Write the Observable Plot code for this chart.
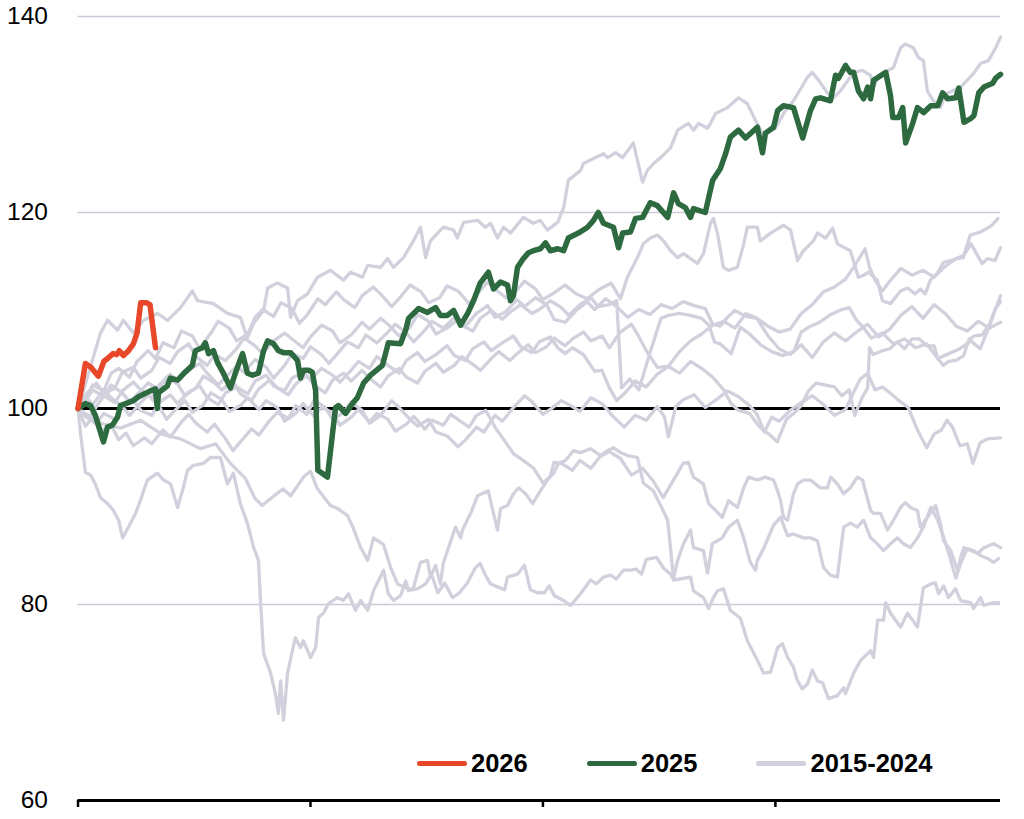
<!DOCTYPE html>
<html>
<head>
<meta charset="utf-8">
<script src="https://cdn.jsdelivr.net/npm/d3@7"></script>
<script src="https://cdn.jsdelivr.net/npm/@observablehq/plot@0.6"></script>
<style>
  body { margin: 0; background: #fff; font-family: "Liberation Sans", Arial, sans-serif; }
  #chart { position: relative; width: 1024px; height: 819px; }
  .legend { position: absolute; left: 417px; top: 748px; height: 30px; display: flex; align-items: center; }
  .legend .item { display: flex; align-items: center; margin-right: 59px; }
  .legend .swatch { width: 50px; height: 5px; border-radius: 3px; margin-right: 4px; }
  .legend .label { font-weight: bold; font-size: 25.5px; color: #000; line-height: 30px; }
</style>
</head>
<body>
<div id="chart"></div>
<script>
// Index level (start of year = 100) by trading day of the year.
const yTicks = [60, 80, 100, 120, 140];
const yGrid = [80, 120, 140];
const xTicks = [0, 63, 126, 189];

const legendItems = ["2026", "2025", "2015-2024"];
const colors = { "2026": "#e8472a", "2025": "#2d6a3f", "2015-2024": "#d1d1dd" };

// [trading day, index]
const y2026 = [[0,100],[2,104.6],[3.5,104.2],[5.5,103.3],[7,104.8],[8,105.1],[9.5,105.6],[10.5,105.5],[11.2,105.9],[12.3,105.4],[13.7,105.9],[15,106.6],[16,107.7],[17,110.8],[18.5,110.8],[19.5,110.6],[21,106.2]];

const y2025 = [[0,100],[2,100.5],[3.4,100.3],[4.7,99.3],[6.9,96.6],[8,98.1],[9.3,98.3],[10.7,99.1],[11.5,100.3],[15,100.8],[16.4,101.2],[19.6,101.8],[21,102],[21.5,100],[21.8,101.6],[24.2,102.3],[25,103.1],[27,102.9],[29,103.7],[31,104.4],[31.8,105.9],[33.7,106.2],[34.5,106.7],[35.4,105.6],[36.7,105.9],[37.8,104.7],[39.4,103.6],[41.3,102.1],[43.2,104.2],[44.6,105.6],[45.9,103.6],[47.3,103.4],[48.9,103.6],[50.3,105.9],[51.4,106.9],[53,106.6],[54.3,105.9],[55.7,105.7],[57.6,105.7],[59.5,104.9],[60.3,103.1],[61.1,103.9],[62.5,103.9],[63.5,103.7],[64.4,101.8],[65,93.7],[67.6,93],[69.8,100.1],[70.6,100.3],[72.5,99.5],[74.4,100.5],[75.7,101.1],[77.4,102.6],[79.3,103.4],[82.5,104.4],[84.1,106.7],[87.4,106.6],[88.8,108],[89.6,109.2],[92.3,110.2],[94.7,109.8],[96.9,110.3],[98.2,109.5],[100.1,109.5],[101.8,110],[103.7,108.5],[105.6,109.7],[107.2,111],[109,112.8],[111.2,113.9],[112.6,112.2],[114.5,112.9],[116.4,112.6],[117.2,111],[118,111.5],[119.1,114.4],[120.7,115.3],[122.1,115.9],[123.4,116.1],[125.3,116.3],[126.7,116.9],[128,116.1],[130,116.3],[131.6,116.1],[132.9,117.4],[135.6,117.9],[138.1,118.5],[139.7,119.2],[141,120],[142.4,118.9],[145.1,118.5],[146.5,116.4],[147.6,117.9],[149.7,118],[151.1,119.4],[153,119.5],[155.1,121],[157,120.7],[159.8,119.5],[161.4,122],[162.7,120.9],[164.6,120.5],[166,119.5],[166.8,120.4],[170,120],[172,123.3],[174.1,124.5],[175.5,126],[176.8,127.7],[179,128.4],[180.9,127.6],[184.1,128.7],[185.5,126.1],[186.3,128.1],[188.5,128.7],[189.6,130.4],[191.2,130.9],[193.9,130.7],[196.4,127.6],[198.5,130.4],[199.9,131.6],[201.2,131.7],[203.9,131.4],[205.3,134],[206.1,133.7],[208,135],[209.3,134.3],[210.2,134.3],[211.5,132.4],[212.9,131.6],[214,132.8],[214.8,131.6],[215.6,133.5],[218.9,134.3],[220.2,131.9],[220.8,129.7],[222.4,129.7],[223.5,130.7],[224.3,127.1],[226.2,129.1],[227.5,130.7],[229.2,130.2],[231.1,130.9],[233,130.9],[234.3,132.2],[235.7,131.6],[237.9,131.7],[238.7,132.7],[240.1,129.2],[242,129.6],[242.8,129.9],[244.1,132.2],[245.5,132.8],[247.9,133.2],[248.7,133.7],[250,134.1]];

// Ten earlier years
const pastYears = [2015, 2016, 2017, 2018, 2019, 2020, 2021, 2022, 2023, 2024];

const pastA = [[0,100],[6.1,107.7],[8,109],[10.7,108],[12.3,109],[15,107.7],[17.8,109],[21.5,109.7],[24.3,109],[27.8,110.3],[31,112],[32.4,111],[36.7,110.7],[40.5,109.7],[44,109.3],[45.9,107.2],[47.6,108.7],[50.3,110],[51.4,112.3],[54,112.8],[56.8,112.3],[57.6,109.3],[59.5,111],[62.2,111.7],[64.9,113.4],[68.4,114.1],[72,113.1],[73.8,113.9],[77.1,113.4],[78.5,114.6],[82,114.4],[83.9,115.3],[85.5,114.4],[88.2,115.4],[90.9,117.1],[92.8,118.5],[94.2,115.4],[95.5,117.1],[99,118.5],[101.8,118.2],[102.8,117.4],[104.5,119],[108.3,119.2],[110.4,118.5],[111.8,118.9],[113.7,117.4],[115.3,118.5],[117.2,117.9],[120.7,119.5],[123.4,118.9],[125.3,119.2],[127.2,118.2],[130,119],[131.6,120.5],[132.9,123.3],[136.2,124.3],[137,125],[139.7,125.5],[142.4,126],[143.5,125.6],[145.7,126.1],[147.6,125.6],[150.5,127.1],[153,123.1],[154.3,124.3],[156,125],[157.9,125.6],[160.6,126.6],[162.5,128.4],[165.4,129.1],[166.8,128.4],[168.2,129.1],[170.6,128.6],[171.4,129.1],[172.8,130.1],[176,130.7],[179,131.7],[181.4,131.1],[183.6,129.4],[185.8,127.9],[189,128.6],[191.7,130.4],[193.9,131.4],[197.7,133.8],[199,134.3],[200.7,133.5],[203.1,132.2],[204.7,131.7],[206.6,132.4],[210.2,134.3],[212.6,134.5],[214.8,134],[215.6,132.8],[216.9,133.8],[219.6,134.5],[221,134.8],[222.9,136.8],[224.2,137.2],[226.4,136.8],[227.8,135.8],[229.1,135.5],[230.2,132.4],[231.8,131.4],[233.7,130.7],[235.1,132.1],[237,132.4],[239.2,132.8],[241,133.5],[242.7,134.2],[244.6,135.2],[246.7,135.5],[248.7,136.8],[250,137.9]];

const pastB = [[0,100],[2,100.9],[4,102.4],[7,101.8],[9,103.6],[11,104.1],[14,103.2],[16,104.8],[19,105.9],[21,105.1],[23,106.7],[26,106.2],[28,107.9],[31,107.4],[33,106.1],[36,107.7],[38,108.9],[41,108.2],[43,106.9],[46,107.6],[48,109.3],[50,110.1],[53,109.4],[55,110.8],[58,110.2],[60,108.7],[62,109.5],[65,111.2],[67,110.6],[70,111.9],[72,111.1],[75,110.3],[77,111.5],[80,112.4],[82,111.7],[85,110.4],[87,111.2],[90,112.6],[93,111.9],[95,110.8],[98,111.3],[100,112.5],[103,112],[106,110.7],[108,111.6],[111,112.9],[113,112.2],[116,111.3],[119,112.1],[121,113],[124,112.2],[126,111.1],[129,111.8],[132,112.6],[135,111.7],[138,111.2],[141,112.1],[144.5,112.8],[147,111.2],[148.9,113.4],[151.6,115.4],[153.2,116.8],[155.1,117.4],[157,117.7],[158.7,117.1],[160.6,116.1],[162.5,115.4],[164.1,115.8],[166,115.3],[167.9,114.8],[169.5,115.8],[171.4,118.9],[172.2,119.4],[173.3,117.9],[174.9,114.4],[176.3,114.1],[178.7,114.4],[180.4,116.8],[181.4,118.5],[184.1,118.5],[184.9,117.1],[187.7,117.9],[191.2,118.7],[193.1,118.2],[195,115.1],[196.6,116.1],[199.3,117.1],[200.4,117.9],[202.6,117.4],[204.5,118.4],[205.8,116.8],[209.3,116.1],[211.5,113.4],[212.9,113.6],[214.2,113.9],[216.6,113.1],[218,111],[220.2,110.7],[222.9,112],[224.8,112.3],[226.9,111.7],[228.3,112.2],[229.6,111.7],[231,113.1],[232.9,113.8],[234.5,114.9],[238.3,115.3],[239.9,115.4],[241.8,117.7],[244.5,118],[246.4,118.4],[247.7,118.7],[249.3,119.4]];

const pastC = [[0,100],[2,101.4],[5,102.6],[7,101.5],[10,102.1],[12,103.7],[15,104.2],[17,103.1],[20,103.9],[22,105.2],[25,104.6],[27,105.8],[30,106.6],[32,105.3],[35,104.4],[37,105.5],[40,104.9],[43,106.1],[45,107.2],[48,106.4],[50,105.6],[53,106.9],[56,107.7],[58,107.1],[61,106.2],[63,107.3],[66,108.5],[69,107.9],[71,106.7],[74,107.5],[77,108.8],[79,108.1],[82,109.2],[84,108.6],[87,107.4],[90,108.3],[92,109.6],[95,108.9],[97,107.6],[100,108.2],[103,109.1],[105,108.4],[108,109.7],[111,110.5],[113,109.3],[116,109.9],[119,111.1],[121,110.4],[124,111.3],[127,110.6],[129,109.1],[132,108.8],[135,110],[138,110.9],[140,110.1],[143,111.2],[146,110.4],[149,109.3],[152,110.1],[155,109.6],[158,110.6],[161,110.2],[164,110.9],[167,110.5],[170,110.2],[172,108.6],[174,108.4],[176,109.3],[178,110],[181,109.4],[184,109.2],[187,108.4],[190,107.8],[193,108.1],[196,109.7],[199,110.6],[202,111.9],[205,112.4],[208,113.2],[210,114.3],[212,115.5],[213.3,116.3],[214.5,114.4],[216,113.1],[218,112],[220,113],[223,114.3],[226,113.6],[229,114.1],[232,113.4],[235,114.5],[238,115.3],[240,115.6],[242,116.8],[243.5,115.8],[245,114.8],[246.5,115.3],[248.5,115.1],[250,116.4]];

const pastD = [[0,100],[3,99.1],[5,100.2],[7,101.3],[10,100.6],[12,101.8],[15,102.7],[17,101.9],[20,101.1],[22,102.4],[25,103.5],[27,102.8],[30,103.9],[33,104.6],[35,103.6],[38,102.4],[40,103.2],[43,104.3],[45,103.7],[48,105],[51,104.2],[53,103.1],[56,104.4],[58,105.6],[61,105.1],[63,106.3],[66,105.5],[68,104.6],[71,105.9],[73,106.8],[76,106.2],[78,107.5],[81,106.7],[84,107.8],[86,108.6],[89,107.7],[91,106.8],[94,108],[96,108.9],[99,108.2],[102,109.3],[104,108.5],[107,107.9],[109,109.2],[112,110],[115,109.1],[117,109.8],[120,110.6],[123,109.7],[125,110.1],[128,111],[131,110.3],[133,109.5],[136,110.6],[139,111.3],[141,110.4],[144,110.6],[146,111],[147.3,102.1],[149.5,103],[152,101.9],[155,105.7],[158,109.2],[160,109.5],[163,109.7],[166,109.5],[169,109.2],[171,108.5],[172.5,106.8],[174,106.6],[177,105.6],[179.5,108.3],[182,107.6],[185,106.5],[188,105.8],[191,105.4],[194,105.8],[196,107.8],[198.5,108.4],[201,108.8],[204,109.6],[207,110.1],[209,110.3],[211,109],[213,108.2],[215,107.2],[218,107.7],[221,106.6],[224,107.1],[227,106.2],[230,106.6],[233,105.1],[236,105.6],[239,106.1],[242,106.9],[244.5,106.1],[247,108.4],[248.5,110],[250,111.5]];

const pastE = [[0,100],[2,99.2],[5,98.4],[7,99.5],[10,98.9],[12,100.3],[15,100.9],[17,99.8],[20,99.3],[22,100.6],[25,101.4],[27,100.5],[30,101.7],[33,102.3],[35,101.1],[38,100.4],[40,101.6],[43,102.2],[46,101.5],[48,102.8],[51,103.4],[53,102.3],[56,101.8],[58,103.1],[61,103.7],[63,102.9],[66,104.1],[69,103.4],[71,102.7],[74,103.9],[76,104.8],[79,104.1],[81,105.3],[84,104.4],[87,103.6],[89,104.9],[92,105.7],[94,104.8],[97,105.5],[100,106.4],[102,105.4],[105,104.9],[107,106.1],[110,106.8],[112,105.9],[115,106.7],[118,107.4],[120,106.3],[123,105.7],[125,106.8],[128,107.3],[130,106.2],[132,105.6],[134,106.2],[137,105.5],[140,103.8],[142,103.9],[144,102.1],[146,100.8],[148,101.5],[151,102.8],[154,102.2],[157,103.5],[160,104.3],[163,103.6],[166,104.8],[169,104.1],[172,103.2],[175,101.9],[177,100.5],[179,99.8],[182,99.5],[184.5,98.2],[187.5,97.3],[189.5,96.6],[192,98.9],[194,99.5],[196,100.3],[198,101.8],[200,102.6],[205,102.2],[207,101.3],[209,101.9],[210.5,99.3],[212.5,101.1],[214,102.1],[214.5,106.2],[215.5,105.5],[218,105.9],[220,106.1],[222,106.8],[224,106.1],[226,107.1],[228,107.1],[230,106.4],[232,106.4],[233,105.1],[234.5,104.4],[236,104.8],[238,104.9],[240,105.4],[241.5,107.1],[243,107.4],[245,107.5],[247,108.6],[248.5,110.1],[250,110.9]];

const pastF = [[0,100],[2,100.8],[4,101.9],[7,101.2],[9,102.4],[12,101.6],[14,100.7],[17,101.8],[19,102.6],[22,101.9],[24,103.2],[27,102.5],[29,101.3],[32,102.1],[34,103.3],[37,102.6],[39,101.9],[42,102.8],[44,101.5],[47,100.8],[49,102],[52,102.9],[54,102.1],[57,101.4],[59,102.5],[62,103.4],[64,102.4],[67,101.6],[69,102.9],[72,103.6],[74,102.8],[77,103.9],[79,103.1],[82,102.2],[84,103.3],[87,104.1],[89,103.2],[92,102.6],[94,103.8],[97,104.6],[99,103.7],[102,104.4],[104,105.3],[107,104.5],[109,103.9],[112,105.1],[114,105.8],[117,104.9],[119,105.6],[122,106.5],[124,105.7],[127,106.3],[129,107.2],[132,106.4],[134,107.1],[137,107.8],[139,106.9],[142,107.4],[144,106.2],[147,107.8],[150,108.6],[151.6,107.6],[154,105.9],[157,104.2],[160,104.3],[163,105.8],[166,106.9],[169,107.6],[172,108.5],[175,108.9],[178,108.2],[181,109.7],[184,109.2],[187,107.4],[190,106.1],[193,105.5],[196,106.5],[199,105.2],[202,106.8],[205,107.7],[208,106.9],[211,107.8],[214,108.6],[217,107.3],[220,108.1],[223,109.5],[226,110.4],[229,109.2],[232,110.6],[235,109.7],[238,108.4],[241,107.9],[244,108.9],[247,108.2],[250,108.8]];

const pastG = [[0,100],[2,98.2],[4,99.1],[6,97.6],[9,98.3],[11,96.8],[13,97.5],[15,96.2],[18,97],[20,96.4],[23,97.8],[25,97.1],[28,98.6],[30,99.4],[32,98.5],[35,97.6],[37,98.4],[40,96.9],[42,95.7],[44,96.6],[47,97.9],[49,97.3],[52,98.8],[54,99.6],[57,99],[59,100.3],[62,99.4],[64,100.9],[67,100.1],[69,98.9],[72,99.6],[74,100.7],[77,99.8],[79,98.5],[82,99.3],[85,100.8],[87,100.1],[90,98.9],[92,98.2],[95,98.9],[97,97.6],[100,97.2],[103,96.1],[105,96.8],[108,98.1],[110,97.6],[113,99.3],[115,98.7],[118,100.1],[121,101.3],[123,100.7],[126,99.4],[128,99.9],[131,100.8],[134,100.2],[136,99.7],[139,101.1],[142,100.5],[145,99.2],[148,98.1],[151,99.3],[154,98.8],[157,100.2],[159,99.1],[160,97.1],[162,100.2],[164,100.9],[167,101.4],[170,100.1],[173,100.9],[176,101.8],[179,101.2],[182,100.3],[184,99.4],[186,97.6],[188,99.1],[190,98.7],[193,99.8],[196,100.6],[199,101.3],[202,100.4],[205,99.3],[208,99.9],[210,101.5],[212,103],[214,103.6],[216,101.9],[218,102.2],[220,101.6],[222.5,100.8],[225,100.1],[227.5,97.8],[230,96],[232,97.4],[234,97.8],[235.5,98.8],[237,98.1],[239,96.2],[241,96.4],[242.5,94.4],[244.5,96.5],[246.5,96.9],[250,97]];

const pastH = [[0,100],[2,101.2],[4,100.4],[7,101.9],[9,101.1],[12,100.2],[14,99.3],[17,100.6],[19,101.4],[22,100.2],[24,98.9],[26,99.7],[29,100.8],[31,99.6],[34,100.4],[36,101.6],[39,100.9],[41,99.7],[44,100.3],[46,101.1],[49,99.9],[51,100.8],[54,100.1],[56,98.7],[59,99.5],[61,100.5],[64,99.2],[66,100.1],[69,99.6],[71,98.3],[74,99.1],[76,99.9],[79,98.6],[81,99.5],[84,98.9],[86,97.7],[89,98.4],[91,99.2],[94,97.9],[96,98.8],[99,98.3],[101,99.4],[104,98.6],[106,98.1],[108,99.3],[110.5,99.8],[113.5,97.8],[116,96.5],[118,95.4],[121,94.6],[123.5,93.9],[126,92.4],[128,93.1],[129,94.5],[131,94.4],[134,93.7],[136,94.7],[139,93.9],[141.5,95.1],[144,95.6],[147,94.9],[150,93.2],[153,93.9],[155.9,92.6],[158.6,90.9],[164,94.4],[165.4,94.5],[166.8,93],[169.5,92.3],[170.9,90.3],[172.8,89.6],[174.6,88.9],[176.3,90.6],[178.7,89.9],[180.4,91.9],[181.7,93],[184.1,92.7],[186.3,93],[188.5,92.7],[189.6,91.6],[190.4,90.6],[191.2,88.9],[192.3,88.6],[193.9,91.3],[195,92.3],[196.6,92.7],[198.5,92.7],[201.2,91.9],[203.1,91.9],[204,93],[205.8,92.3],[207.5,91.3],[209.3,91.9],[211.2,93],[212.6,92.7],[214.8,89.6],[215.6,89.3],[217.5,89.3],[219.4,87.6],[221,88.6],[222.9,89.9],[224.2,90.4],[225.6,89.9],[227.5,89.6],[228.3,87.9],[230.2,88.9],[232.4,90.1],[233.7,88.3],[234.6,86.5],[236.5,85.5],[238.4,83.5],[239.2,84.8],[240.1,85.8],[241.9,85.5],[243.8,85.2],[245.5,85.8],[248.1,86.2],[250,85.8]];

const pastI = [[0,100],[0.7,97.4],[2,93.5],[3.4,93.2],[4.7,92.3],[6.1,90.9],[8,90.3],[9.6,89.6],[11,88.6],[12.1,86.8],[13.7,87.9],[15.6,89.3],[16.9,90.6],[18.8,92.7],[21.5,93.4],[23.2,92.7],[25.1,92.3],[27,89.9],[28.3,91.6],[29.7,93.7],[31.3,94.2],[34,94.4],[35.9,95],[38.6,95],[40.5,92.3],[42.1,93.4],[44,90.3],[45.9,88.3],[47.6,85.8],[48.9,84.5],[49.5,80.1],[50.3,75],[52.2,73],[53.5,70.9],[54.3,68.9],[54.9,72.2],[55.7,68.2],[56.8,73],[58.1,75.3],[58.9,76.6],[60.3,75.6],[61.1,76.3],[63,74.6],[64.4,75.6],[65.2,78.7],[66.5,79.1],[67.9,80.1],[70.3,80.7],[71.9,80.4],[73.3,81.1],[75.2,79.4],[76.6,80.4],[78.5,79.4],[80.1,81.4],[82.8,83.5],[84.1,81.1],[85.5,80.4],[87.4,80.9],[88.8,82.4],[89.6,81.4],[90.9,81.7],[92.8,84.3],[94.7,84.5],[95.5,82.8],[96.9,84],[98.2,82.1],[99,84.2],[100.4,85.8],[102.3,87.9],[103.7,86.8],[104.2,87.6],[106.4,89.3],[108.3,91.1],[111.2,91.6],[112.6,89.3],[113.7,87.6],[114.5,89.8],[116.4,90.1],[118,91.3],[119.4,91.9],[121.3,91.3],[123.2,90.3],[125.3,91.6],[127.2,92.7],[128.9,93.4],[130.2,94.4],[132.1,94.7],[134.3,95.7],[136.2,95.5],[138.9,95.9],[141.6,95.2],[143.5,95.7],[145.1,96],[147,95.5],[148.9,95.2],[151.6,95],[153.2,92.4],[155.9,91.6],[157.9,90.1],[159.8,88.6],[161.4,82.7],[162.5,84.5],[164.1,86.2],[166,87.6],[166.8,85.8],[169.5,85.5],[170.6,83.2],[171.9,86.2],[174.6,86.8],[176.3,87.9],[178.7,88.6],[180.4,86.8],[182.2,84.3],[183.6,83.5],[184.1,84.5],[185.8,85.7],[188.5,88.1],[190.4,88.9],[192.3,87],[193.9,87.2],[196.6,86.8],[198.5,86.8],[200.4,86.5],[202,83.8],[203.9,83],[205.8,82.8],[207.5,87.9],[209.3,88.3],[211.2,87.9],[212.9,88.6],[214.8,86.8],[216.6,86.2],[218.3,85.5],[220.2,86.2],[222.1,86.8],[223.7,86.2],[225.6,85.8],[227.5,86.8],[229.1,87.9],[231.1,89.9],[233,88.6],[234.6,86.8],[236,85.2],[237.9,82.7],[239.2,84.2],[241,85.7],[242.7,85.5],[244.6,85],[246.5,84.7],[248.1,84.3],[249.5,84.7]];

const pastJ = [[0,100],[6,98.5],[11.5,98],[17,98.8],[22.5,97.4],[27.8,96.9],[33.2,95.9],[37.3,96.4],[41.3,94.4],[45.3,92.9],[48,90.8],[49.9,90.1],[52.8,91],[55.6,91.8],[57.6,91.1],[59.5,92.1],[61.1,93],[63,93.6],[64.9,91.8],[68.4,90.1],[70.3,89.8],[73,89.1],[74.6,87.8],[76.6,85.8],[78.5,84.5],[80.1,86.8],[82.8,86.1],[84.7,83.8],[86.6,82.1],[88.2,81.8],[90.1,81.5],[92,81.6],[94.2,82.1],[95.8,83.1],[97.5,81.2],[99.4,82.2],[101.5,80.7],[103.4,81.2],[105.5,82.2],[107.6,83.7],[109,84.2],[110.4,83],[111.8,82.1],[113.7,81.8],[115.6,81.5],[116.4,82.8],[119.1,83.1],[121,84],[122.6,81.5],[124.5,81.2],[126.4,81.2],[127.7,81.9],[129.1,80.9],[131.6,80.4],[133.5,79.9],[136.2,81.1],[138.9,82.5],[140.5,82.1],[142.4,82.8],[144.3,83],[145.9,82.6],[147.8,83.5],[149.7,83.5],[151.3,83.6],[152.7,83.1],[154,84.6],[156.8,84.8],[158.7,83.7],[160.6,83.1],[161.4,82.5],[166,82.8],[166.8,81.4],[169.5,80.7],[170.9,79.6],[172.2,80.7],[173.3,81.4],[174.9,81.6],[176.8,79.4],[179.5,78.6],[181.4,76.3],[184.1,74.3],[185.8,73],[187.7,73.1],[189.6,75.6],[190.9,76],[192.3,74.6],[193.9,73.6],[195,72.2],[196.3,71.4],[197.7,71.9],[199,73.3],[200.4,72.2],[201.8,72],[203.4,70.4],[205.8,70.7],[207.5,71.5],[208,70.9],[210.2,73],[212.1,74.3],[214.8,75.3],[215.6,74.6],[216.7,78.4],[218.3,78.4],[218.9,80.2],[220.2,79.1],[222.9,77.7],[224.8,79.1],[226.2,78.4],[227.5,77.7],[228.3,79.7],[229.1,81.7],[231.1,82.1],[232.4,82.2],[233.2,81.1],[234.6,81.9],[235.9,80.7],[237.8,81.6],[239.2,80.4],[241.9,80.2],[242.7,79.6],[244.6,80.7],[245.5,79.9],[248.1,80.2],[249.5,80.2]];

const past = [pastA, pastB, pastC, pastD, pastE, pastF, pastG, pastH, pastI, pastJ];

// Long tables for Plot
const toRows = (pts, key) => pts.map(([day, value]) => ({ key, day, value }));
const pastRows = past.flatMap((pts, i) => toRows(pts, pastYears[i]));
const rows2025 = toRows(y2025, "2025");
const rows2026 = toRows(y2026, "2026");

const chart = Plot.plot({
  width: 1024,
  height: 819,
  marginTop: 16,
  marginBottom: 19,
  marginLeft: 77.5,
  marginRight: 24,
  x: { domain: [0, 250] },
  y: { domain: [60, 140] },
  style: { fontFamily: "'Liberation Sans', Arial, sans-serif", color: "#000", background: "#fff" },
  marks: [
    Plot.gridY(yGrid, { stroke: "#cacad8", strokeOpacity: 1, strokeWidth: 1.5 }),
    Plot.axisY(yTicks, { tickSize: 0, tickPadding: 30, fontSize: 24.5, label: null }),
    Plot.axisX(xTicks, { tickSize: 7, tickFormat: () => "", label: null, strokeWidth: 2.5 }),
    Plot.ruleY([60], { stroke: "#000", strokeWidth: 3 }),
    Plot.ruleY([100], { stroke: "#000", strokeWidth: 3 }),
    Plot.line(pastRows, { x: "day", y: "value", z: "key", stroke: colors["2015-2024"], strokeWidth: 3.3, strokeLinejoin: "round", strokeLinecap: "round" }),
    Plot.line(rows2025, { x: "day", y: "value", stroke: colors["2025"], strokeWidth: 5.5, strokeLinejoin: "round", strokeLinecap: "round" }),
    Plot.line(rows2026, { x: "day", y: "value", stroke: colors["2026"], strokeWidth: 5.5, strokeLinejoin: "round", strokeLinecap: "round" })
  ]
});

const host = document.getElementById("chart");
host.appendChild(chart);

// Legend drawn over the lower part of the plot area
const legend = document.createElement("div");
legend.className = "legend";
for (const name of legendItems) {
  const item = document.createElement("div");
  item.className = "item";
  const sw = document.createElement("div");
  sw.className = "swatch";
  sw.style.background = colors[name];
  const lab = document.createElement("span");
  lab.className = "label";
  lab.textContent = name;
  item.append(sw, lab);
  legend.appendChild(item);
}
host.appendChild(legend);
</script>
</body>
</html>
